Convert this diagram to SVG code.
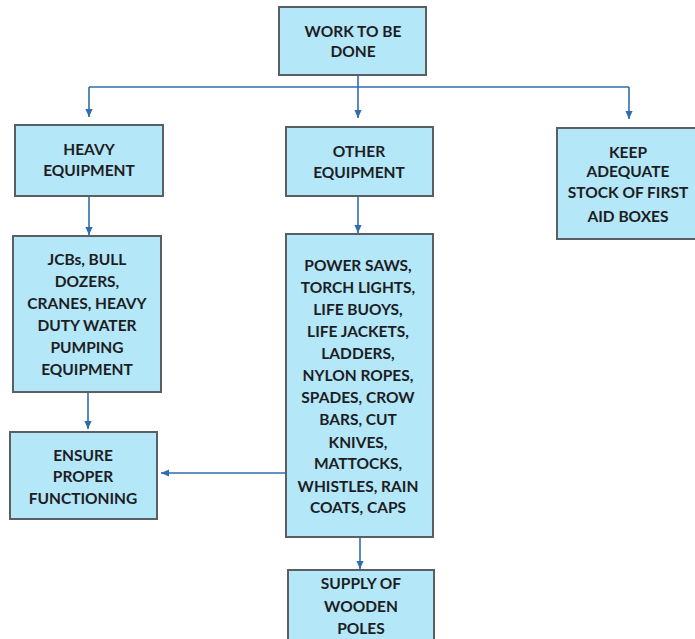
<svg xmlns="http://www.w3.org/2000/svg" width="695" height="639" viewBox="0 0 695 639">
<style>
.box{fill:#b4e7f8;stroke:#5a5f63;stroke-width:2}
.t{font-family:Lato,"Open Sans",sans-serif;font-weight:bold;font-size:15.5px;fill:#1d1d24;text-anchor:middle}
.c{stroke:#2f6db0;stroke-width:1.6;fill:none}
</style>
<defs>
<marker id="ah" viewBox="0 0 10 10" refX="10" refY="5" markerWidth="8" markerHeight="8" markerUnits="userSpaceOnUse" orient="auto"><path d="M0,0.5 L10,5 L0,9.5 z" fill="#2f6db0"/></marker>
</defs>
<rect width="695" height="639" fill="#ffffff"/>
<g id="connectors">
<path class="c" d="M358,75 V118" marker-end="url(#ah)"/>
<path class="c" d="M89,87 H629"/>
<path class="c" d="M89,87 V117" marker-end="url(#ah)"/>
<path class="c" d="M629,87 V119" marker-end="url(#ah)"/>
<path class="c" d="M89,196 V235" marker-end="url(#ah)"/>
<path class="c" d="M358,196 V233" marker-end="url(#ah)"/>
<path class="c" d="M88,392 V429" marker-end="url(#ah)"/>
<path class="c" d="M286,473 H161" marker-end="url(#ah)"/>
<path class="c" d="M360,537 V569" marker-end="url(#ah)"/>
</g>
<g id="work">
<rect class="box" x="279" y="7" width="147" height="68"/>
<text class="t" x="353" y="36.5">WORK TO BE</text>
<text class="t" x="353" y="56.5">DONE</text>
</g>
<g id="heavy">
<rect class="box" x="15" y="125" width="148" height="71"/>
<text class="t" x="89" y="154.5">HEAVY</text>
<text class="t" x="89" y="175.5">EQUIPMENT</text>
</g>
<g id="other">
<rect class="box" x="286" y="127" width="147" height="69"/>
<text class="t" x="359" y="157">OTHER</text>
<text class="t" x="359" y="178">EQUIPMENT</text>
</g>
<g id="keep">
<rect class="box" x="557" y="128" width="140" height="111"/>
<text class="t" x="628" y="157.5">KEEP</text>
<text class="t" x="628" y="176.5">ADEQUATE</text>
<text class="t" x="628" y="197.5">STOCK OF FIRST</text>
<text class="t" x="628" y="221.5">AID BOXES</text>
</g>
<g id="jcbs">
<rect class="box" x="13" y="236" width="148" height="156"/>
<text class="t" x="87" y="264.5">JCBs, BULL</text>
<text class="t" x="87" y="286.5">DOZERS,</text>
<text class="t" x="87" y="308.5">CRANES, HEAVY</text>
<text class="t" x="87" y="330.5">DUTY WATER</text>
<text class="t" x="87" y="352.5">PUMPING</text>
<text class="t" x="87" y="374.5">EQUIPMENT</text>
</g>
<g id="ensure">
<rect class="box" x="10" y="432" width="147" height="87"/>
<text class="t" x="83" y="460.5">ENSURE</text>
<text class="t" x="83" y="481.5">PROPER</text>
<text class="t" x="83" y="503.5">FUNCTIONING</text>
</g>
<g id="power">
<rect class="box" x="286" y="234" width="147" height="303"/>
<text class="t" x="358" y="270.5">POWER SAWS,</text>
<text class="t" x="358" y="292.5">TORCH LIGHTS,</text>
<text class="t" x="358" y="314.5">LIFE BUOYS,</text>
<text class="t" x="358" y="336.5">LIFE JACKETS,</text>
<text class="t" x="358" y="358.5">LADDERS,</text>
<text class="t" x="358" y="380.5">NYLON ROPES,</text>
<text class="t" x="358" y="402.5">SPADES, CROW</text>
<text class="t" x="358" y="424.5">BARS, CUT</text>
<text class="t" x="358" y="447.5">KNIVES,</text>
<text class="t" x="358" y="468.5">MATTOCKS,</text>
<text class="t" x="358" y="491.5">WHISTLES, RAIN</text>
<text class="t" x="358" y="512.5">COATS, CAPS</text>
</g>
<g id="supply">
<rect class="box" x="288" y="570" width="146" height="75"/>
<text class="t" x="361" y="588.5">SUPPLY OF</text>
<text class="t" x="361" y="611.5">WOODEN</text>
<text class="t" x="361" y="633.5">POLES</text>
</g>
</svg>
